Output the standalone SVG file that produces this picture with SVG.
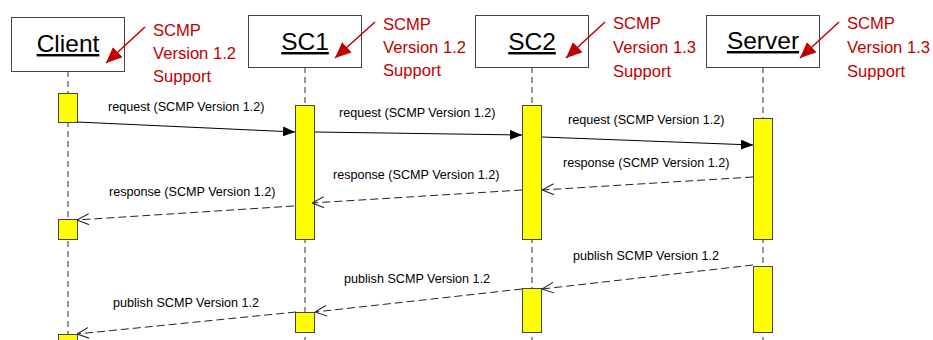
<svg xmlns="http://www.w3.org/2000/svg" width="933" height="340" viewBox="0 0 933 340">
<style>
.box{fill:#fff;stroke:#444;stroke-width:1}
.title{font-family:"Liberation Sans",Arial,sans-serif;font-size:24.5px;fill:#000;text-anchor:middle;text-decoration:underline}
.life{stroke:#333;stroke-width:1;stroke-dasharray:6,4;fill:none}
.act{fill:#ffff00;stroke:#444;stroke-width:1}
.msg{stroke:#000;stroke-width:1;fill:none}
.ret{stroke:#222;stroke-width:1;fill:none;stroke-dasharray:8,4}
.lbl{font-family:"Liberation Sans",Arial,sans-serif;font-size:12.6px;fill:#000}
.note{font-family:"Liberation Sans",Arial,sans-serif;font-size:16.6px;fill:#c00000}
.nline{stroke:#c00000;stroke-width:1.5;fill:none}
</style>
<defs>
<marker id="filled" viewBox="0 0 12 10" refX="12" refY="5" markerWidth="12" markerHeight="10" orient="auto" markerUnits="userSpaceOnUse"><path d="M0,0 L12,5 L0,10 z" fill="#000"/></marker>
<marker id="open" viewBox="0 0 12 12" refX="12" refY="6" markerWidth="12" markerHeight="12" orient="auto" markerUnits="userSpaceOnUse"><path d="M0,0.5 L12,6 L0,11.5" fill="none" stroke="#222" stroke-width="1"/></marker>
<marker id="red" viewBox="0 0 16 14" refX="16" refY="7" markerWidth="16" markerHeight="14" orient="auto" markerUnits="userSpaceOnUse"><path d="M0,0 L16,7 L0,14 z" fill="#c00000"/></marker>
</defs>
<g id="lifelines">
<line class="life" x1="68" y1="71" x2="68" y2="340"/>
<line class="life" x1="305" y1="67" x2="305" y2="340"/>
<line class="life" x1="532" y1="67" x2="532" y2="340"/>
<line class="life" x1="763" y1="67" x2="763" y2="340"/>
</g>
<g id="client">
<rect class="box" x="11.5" y="17.5" width="113" height="54"/>
<text class="title" x="68" y="52">Client</text>
</g>
<g id="sc1">
<rect class="box" x="248.5" y="15.5" width="113" height="52"/>
<text class="title" x="305" y="50">SC1</text>
</g>
<g id="sc2">
<rect class="box" x="475.5" y="15.5" width="113" height="52"/>
<text class="title" x="532" y="50">SC2</text>
</g>
<g id="server">
<rect class="box" x="706.5" y="15.5" width="113" height="52"/>
<text class="title" x="763" y="49">Server</text>
</g>
<g id="activations">
<rect class="act" x="58.5" y="93.5" width="19" height="29"/>
<rect class="act" x="58.5" y="219.5" width="19" height="20"/>
<rect class="act" x="58.5" y="334.5" width="19" height="10"/>
<rect class="act" x="295.5" y="105.5" width="19" height="134"/>
<rect class="act" x="295.5" y="312.5" width="19" height="20"/>
<rect class="act" x="522.5" y="105.5" width="19" height="134"/>
<rect class="act" x="522.5" y="288.5" width="19" height="44"/>
<rect class="act" x="753.5" y="118.5" width="19" height="121"/>
<rect class="act" x="753.5" y="266.5" width="19" height="66"/>
</g>
<g id="connectors">
<line class="msg" x1="77" y1="122" x2="295" y2="132" marker-end="url(#filled)"/>
<line class="msg" x1="315" y1="132" x2="522" y2="135" marker-end="url(#filled)"/>
<line class="msg" x1="542" y1="137" x2="753" y2="145" marker-end="url(#filled)"/>
<line class="ret" x1="753" y1="177" x2="542" y2="190" marker-end="url(#open)"/>
<line class="ret" x1="522" y1="190" x2="312" y2="203" marker-end="url(#open)"/>
<line class="ret" x1="294" y1="206" x2="77" y2="220" marker-end="url(#open)"/>
<line class="ret" x1="753" y1="265" x2="542" y2="289" marker-end="url(#open)"/>
<line class="ret" x1="522" y1="289" x2="315" y2="312" marker-end="url(#open)"/>
<line class="ret" x1="296" y1="312" x2="77" y2="334" marker-end="url(#open)"/>
<line class="nline" x1="145" y1="27" x2="106" y2="63" marker-end="url(#red)"/>
<line class="nline" x1="375" y1="22" x2="335" y2="58" marker-end="url(#red)"/>
<line class="nline" x1="605" y1="22" x2="566" y2="58" marker-end="url(#red)"/>
<line class="nline" x1="839" y1="22" x2="800" y2="58" marker-end="url(#red)"/>
</g>
<g id="labels">
<text class="lbl" x="108" y="111">request (SCMP Version 1.2)</text>
<text class="lbl" x="339" y="117">request (SCMP Version 1.2)</text>
<text class="lbl" x="568" y="124">request (SCMP Version 1.2)</text>
<text class="lbl" x="563" y="167">response (SCMP Version 1.2)</text>
<text class="lbl" x="333" y="179">response (SCMP Version 1.2)</text>
<text class="lbl" x="109" y="196">response (SCMP Version 1.2)</text>
<text class="lbl" x="573" y="260">publish SCMP Version 1.2</text>
<text class="lbl" x="344" y="283">publish SCMP Version 1.2</text>
<text class="lbl" x="113" y="307">publish SCMP Version 1.2</text>
</g>
<g id="notes">
<text class="note" x="153" y="36">SCMP<tspan x="153" y="59">Version 1.2</tspan><tspan x="153" y="82">Support</tspan></text>
<text class="note" x="383" y="30">SCMP<tspan x="383" y="53">Version 1.2</tspan><tspan x="383" y="76">Support</tspan></text>
<text class="note" x="613" y="29">SCMP<tspan x="613" y="53">Version 1.3</tspan><tspan x="613" y="77">Support</tspan></text>
<text class="note" x="847" y="29">SCMP<tspan x="847" y="53">Version 1.3</tspan><tspan x="847" y="77">Support</tspan></text>
</g>
</svg>
